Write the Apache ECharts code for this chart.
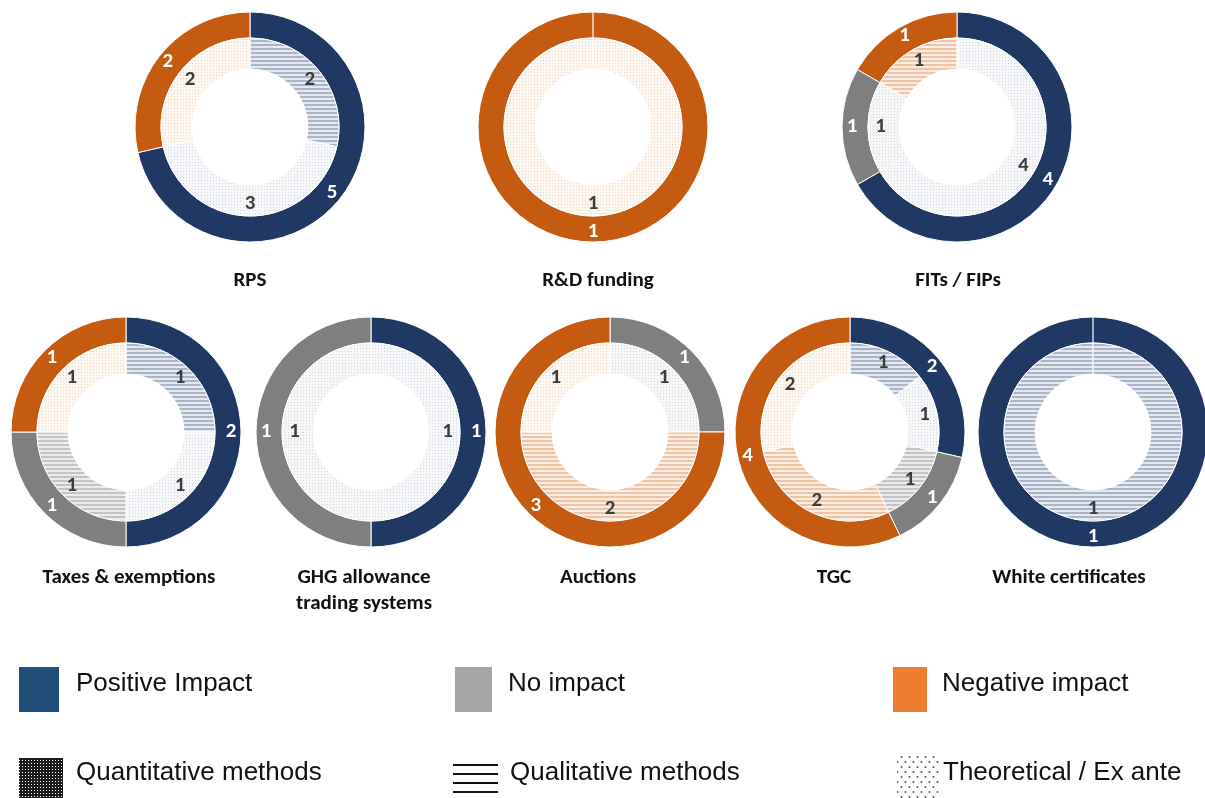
<!DOCTYPE html>
<html>
<head>
<meta charset="utf-8">
<script src="https://cdn.jsdelivr.net/npm/echarts@6/dist/echarts.min.js"></script>
<style>
  html, body { margin: 0; padding: 0; background: #ffffff; }
  #chart { width: 1205px; height: 798px; }
</style>
</head>
<body>
<div id="chart"></div>
<script>
// Policy instruments, one double donut each
const instruments = ['RPS', 'R&D funding', 'FITs / FIPs', 'Taxes & exemptions',
  'GHG allowance\ntrading systems', 'Auctions', 'TGC', 'White certificates'];

// Outer ring: number of studies by reported impact
const positiveImpact = [5, 0, 4, 2, 1, 0, 2, 1];
const noImpact       = [0, 0, 1, 1, 1, 1, 1, 0];
const negativeImpact = [2, 1, 1, 1, 0, 3, 4, 0];

// Inner ring: the same studies split by evaluation method
const positiveQualitative  = [2, 0, 0, 1, 0, 0, 1, 1];
const positiveTheoretical  = [3, 0, 4, 1, 1, 0, 1, 0];
const noneQualitative      = [0, 0, 0, 1, 0, 0, 1, 0];
const noneTheoretical      = [0, 0, 1, 0, 1, 1, 0, 0];
const negativeQualitative  = [0, 0, 1, 0, 0, 2, 2, 0];
const negativeTheoretical  = [2, 1, 0, 1, 0, 1, 2, 0];

// Legend entries
const impactLabels = ['Positive Impact', 'No impact', 'Negative impact'];
const methodLabels = ['Quantitative methods', 'Qualitative methods', 'Theoretical / Ex ante'];

// ---- layout and styling ----
const centers = [[250, 127], [593, 127], [957, 127],
  [126, 432], [371, 432], [610, 432], [850, 432], [1093, 432]];
const titlePos = [[250, 281], [598, 281], [958, 281],
  [129, 578], [364, 591], [598, 578], [834, 578], [1069, 578]];
const OUTER = [89, 115];
const INNER = [58, 89];

const ringColors = { positive: '#1f3864', none: '#7f7f7f', negative: '#c55a11' };
const tints = {
  positive: { stripe: '#a9b4c8', bg: '#e4e8ef', dot: '#d2d7e0', paper: '#f6f7f9' },
  none:     { stripe: '#c3c3c3', bg: '#ececec', dot: '#d6d6d6', paper: '#f6f6f6' },
  negative: { stripe: '#efc4a4', bg: '#fbede3', dot: '#edd5c2', paper: '#fdf7f2' }
};

function tile(w, h, draw) {
  const c = document.createElement('canvas');
  c.width = w; c.height = h;
  draw(c.getContext('2d'));
  return c;
}
function stripeFill(t) {
  return { image: tile(1, 4, g => {
    g.fillStyle = t.bg; g.fillRect(0, 0, 1, 4);
    g.fillStyle = t.stripe; g.fillRect(0, 0, 1, 2);
  }), repeat: 'repeat' };
}
function dotFill(t) {
  return { image: tile(3, 3, g => {
    g.fillStyle = t.paper; g.fillRect(0, 0, 3, 3);
    g.fillStyle = t.dot; g.fillRect(0, 0, 1, 1);
  }), repeat: 'repeat' };
}

const labelFont = 'Carlito, Lato, "Open Sans", sans-serif';

function outerData(i) {
  return [
    { name: impactLabels[0], value: positiveImpact[i], itemStyle: { color: ringColors.positive } },
    { name: impactLabels[1], value: noImpact[i], itemStyle: { color: ringColors.none } },
    { name: impactLabels[2], value: negativeImpact[i], itemStyle: { color: ringColors.negative } }
  ].filter(d => d.value > 0);
}
function innerData(i) {
  return [
    { name: 'Positive / qualitative', value: positiveQualitative[i], itemStyle: { color: stripeFill(tints.positive) } },
    { name: 'Positive / theoretical', value: positiveTheoretical[i], itemStyle: { color: dotFill(tints.positive) } },
    { name: 'None / qualitative', value: noneQualitative[i], itemStyle: { color: stripeFill(tints.none) } },
    { name: 'None / theoretical', value: noneTheoretical[i], itemStyle: { color: dotFill(tints.none) } },
    { name: 'Negative / qualitative', value: negativeQualitative[i], itemStyle: { color: stripeFill(tints.negative) } },
    { name: 'Negative / theoretical', value: negativeTheoretical[i], itemStyle: { color: dotFill(tints.negative) } }
  ].filter(d => d.value > 0);
}

function ring(i, radius, data, textColor) {
  return {
    type: 'pie',
    center: centers[i],
    radius: radius,
    startAngle: 90,
    clockwise: true,
    silent: true,
    animation: false,
    avoidLabelOverlap: false,
    itemStyle: { borderColor: '#ffffff', borderWidth: 1 },
    label: {
      show: true, position: 'inside', formatter: '{c}',
      color: textColor, fontSize: 21, fontWeight: 'bold', fontFamily: labelFont
    },
    labelLine: { show: false },
    emphasis: { disabled: true },
    data: data
  };
}

const series = [];
instruments.forEach((name, i) => {
  series.push(ring(i, OUTER, outerData(i), '#ffffff'));
  series.push(ring(i, INNER, innerData(i), '#3b3b3b'));
});

const graphics = [];
// titles under each donut
instruments.forEach((name, i) => {
  graphics.push({
    type: 'text', x: titlePos[i][0], y: titlePos[i][1], silent: true,
    style: { text: name, fill: '#111111', font: 'bold 21px ' + labelFont,
      align: 'center', verticalAlign: 'middle', lineHeight: 26 }
  });
});
// thin seam at 12 o'clock for single-slice rings
instruments.forEach((name, i) => {
  if (outerData(i).length === 1) {
    graphics.push({
      type: 'line', silent: true, z: 10,
      shape: { x1: centers[i][0], y1: centers[i][1] - OUTER[1], x2: centers[i][0], y2: centers[i][1] - INNER[0] },
      style: { stroke: '#ffffff', lineWidth: 1.2 }
    });
  }
});

// legend: impact swatches
const legendFont = '26px "Liberation Sans", Arial, sans-serif';
const swatchX = [19, 455, 893];
const swatchW = [40, 37, 34];
const textX = [76, 508, 942];
const impactSwatch = ['#1f4e79', '#a5a5a5', '#ed7d31'];
impactLabels.forEach((lab, k) => {
  graphics.push({ type: 'rect', silent: true, shape: { x: swatchX[k], y: 667, width: swatchW[k], height: 45 },
    style: { fill: impactSwatch[k] } });
  graphics.push({ type: 'text', silent: true, x: textX[k], y: 684,
    style: { text: lab, font: legendFont, fill: '#111111', verticalAlign: 'middle' } });
});

// legend: method swatches
const quantTile = tile(3, 3, g => {
  g.fillStyle = '#1c1c1c'; g.fillRect(0, 0, 3, 3);
  g.fillStyle = '#ffffff'; g.fillRect(1, 1, 1, 1);
});
graphics.push({ type: 'rect', silent: true, shape: { x: 19, y: 758, width: 44, height: 40 },
  style: { fill: { image: quantTile, repeat: 'repeat' } } });
[765, 774, 783, 792].forEach(y => {
  graphics.push({ type: 'line', silent: true, shape: { x1: 453, y1: y, x2: 498, y2: y },
    style: { stroke: '#111111', lineWidth: 2 } });
});
const theoTile = tile(8, 10, g => {
  g.fillStyle = '#555555';
  g.beginPath(); g.arc(1.5, 2, 1, 0, Math.PI * 2); g.fill();
  g.beginPath(); g.arc(5.5, 7, 1, 0, Math.PI * 2); g.fill();
});
graphics.push({ type: 'rect', silent: true, shape: { x: 897, y: 756, width: 42, height: 42 },
  style: { fill: { image: theoTile, repeat: 'repeat' } } });
const methodTextX = [76, 510, 943];
methodLabels.forEach((lab, k) => {
  graphics.push({ type: 'text', silent: true, x: methodTextX[k], y: 773,
    style: { text: lab, font: legendFont, fill: '#111111', verticalAlign: 'middle' } });
});

const chart = echarts.init(document.getElementById('chart'), null, { renderer: 'canvas' });
chart.setOption({
  backgroundColor: '#ffffff',
  animation: false,
  series: series,
  graphic: { elements: graphics }
});
</script>
</body>
</html>
